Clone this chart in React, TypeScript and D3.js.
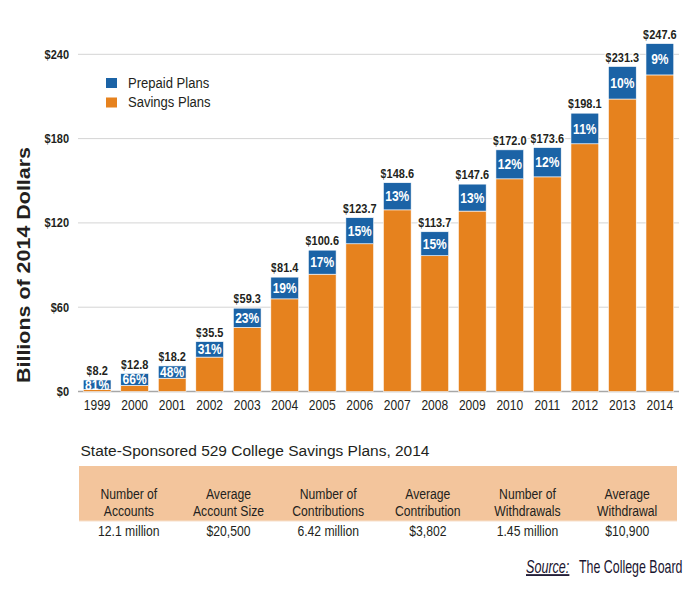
import React from "react";
import * as d3 from "d3";

const years = ["1999","2000","2001","2002","2003","2004","2005","2006","2007","2008","2009","2010","2011","2012","2013","2014"];
const totals = [8.2,12.8,18.2,35.5,59.3,81.4,100.6,123.7,148.6,113.7,147.6,172.0,173.6,198.1,231.3,247.6];
const prepaidPct = [81,66,48,31,23,19,17,15,13,15,13,12,12,11,10,9];
const yTicks = [0,60,120,180,240];

const tableTitle = "State-Sponsored 529 College Savings Plans, 2014";
const tableHeaders = [["Number of","Accounts"],["Average","Account Size"],["Number of","Contributions"],["Average","Contribution"],["Number of","Withdrawals"],["Average","Withdrawal"]];
const tableValues = ["12.1 million","$20,500","6.42 million","$3,802","1.45 million","$10,900"];

const BLUE = "#1b63a6";
const ORANGE = "#e6821e";
const TABLE_FILL = "#f3c59c";
const TEXT = "#231f20";
const SANS = "'Liberation Sans', Arial, sans-serif";

type TProps = {
  x: number; y: number; sx?: number; anchor?: "start" | "middle" | "end";
  size: number; bold?: boolean; fill?: string; dy?: string; halo?: boolean; italic?: boolean; underline?: boolean;
  children: React.ReactNode;
};

function T({ x, y, sx = 1, anchor = "start", size, bold, fill = TEXT, dy, halo, italic, underline, children }: TProps) {
  return (
    <text
      transform={`translate(${x},${y}) scale(${sx},1)`}
      textAnchor={anchor}
      fontFamily={SANS}
      fontSize={size}
      fontWeight={bold ? "bold" : "normal"}
      fontStyle={italic ? "italic" : "normal"}
      textDecoration={underline ? "underline" : undefined}
      fill={fill}
      dy={dy}
      stroke={halo ? "#fff" : undefined}
      strokeWidth={halo ? 3 : undefined}
      paintOrder={halo ? "stroke" : undefined}
    >
      {children}
    </text>
  );
}

export default function App() {
  const W = 695, H = 597;
  const x = d3.scaleBand<string>().domain(years).range([78, 679]).paddingInner(0.26).paddingOuter(0.14);
  const y = d3.scaleLinear().domain([0, 240]).range([391.5, 54.3]);
  const cols = d3.scaleBand<number>().domain(d3.range(6)).range([79, 677]);

  const data = years.map((yr, i) => {
    const t = totals[i];
    const pre = t * prepaidPct[i] / 100;
    return { yr, t, pre, sav: t - pre, pct: prepaidPct[i] };
  });

  return (
    <svg width={W} height={H} style={{ position: "absolute", left: 0, top: 0, background: "#fff" }}>
      {/* gridlines */}
      {yTicks.map((v) => (
        <g key={v}>
          <line x1={78} x2={679} y1={y(v)} y2={y(v)} stroke={v === 0 ? "#a7a7a7" : "#d4d4d4"} strokeWidth={v === 0 ? 1.5 : 1} />
          <T x={69} y={y(v)} dy="0.36em" anchor="end" size={12.5} sx={0.88} bold>${v}</T>
        </g>
      ))}
      {/* y title */}
      <text transform={`translate(30,265) rotate(-90)`} textAnchor="middle" fontFamily={SANS} fontWeight="bold" fontSize={17.5} fill={TEXT} textLength={236} lengthAdjust="spacingAndGlyphs">Billions of 2014 Dollars</text>

      {/* legend */}
      <rect x={106} y={78} width={11} height={10} fill={BLUE} />
      <T x={128} y={87.5} size={15} sx={0.87}>Prepaid Plans</T>
      <rect x={106} y={97.5} width={11} height={10} fill={ORANGE} />
      <T x={128} y={107} size={15} sx={0.87}>Savings Plans</T>

      {/* bars */}
      {data.map((d) => {
        const bx = x(d.yr)!;
        const bw = x.bandwidth();
        const cx = bx + bw / 2;
        const yTop = y(d.t);
        const yMid = y(d.sav);
        const y0 = y(0);
        return (
          <g key={d.yr}>
            <rect x={bx} y={yMid} width={bw} height={y0 - yMid} fill={ORANGE} stroke="#fff" strokeWidth={0.6} />
            <rect x={bx} y={yTop} width={bw} height={yMid - yTop} fill={BLUE} stroke="#fff" strokeWidth={0.6} />
            <T x={cx} y={(yTop + yMid) / 2} dy="0.36em" anchor="middle" bold size={14} sx={0.86} fill="#fff">{d.pct}%</T>
            <T x={cx} y={yTop - 5} anchor="middle" bold size={12.5} sx={0.88} halo>${d.t.toFixed(1)}</T>
            <T x={cx} y={410} anchor="middle" size={14} sx={0.86}>{d.yr}</T>
          </g>
        );
      })}

      {/* table */}
      <T x={80.5} y={456} size={15.5}>{tableTitle}</T>
      <rect x={79} y={466} width={598} height={55} fill={TABLE_FILL} />
      <line x1={79} x2={677} y1={521} y2={521} stroke="#f7e0cc" strokeWidth={1} />
      {tableHeaders.map((h, i) => {
        const cx = cols(i)! + cols.bandwidth() / 2;
        return (
          <g key={i}>
            <T x={cx} y={499} anchor="middle" size={14} sx={0.87}>{h[0]}</T>
            <T x={cx} y={516} anchor="middle" size={14} sx={0.87}>{h[1]}</T>
            <T x={cx} y={536} anchor="middle" size={14} sx={0.87}>{tableValues[i]}</T>
          </g>
        );
      })}

      {/* source */}
      <T x={526} y={573} size={18} sx={0.7} italic underline fill="#1a1530">Source:</T>
      <T x={579} y={573} size={18} sx={0.69} fill="#1a1530">The College Board</T>
    </svg>
  );
}
